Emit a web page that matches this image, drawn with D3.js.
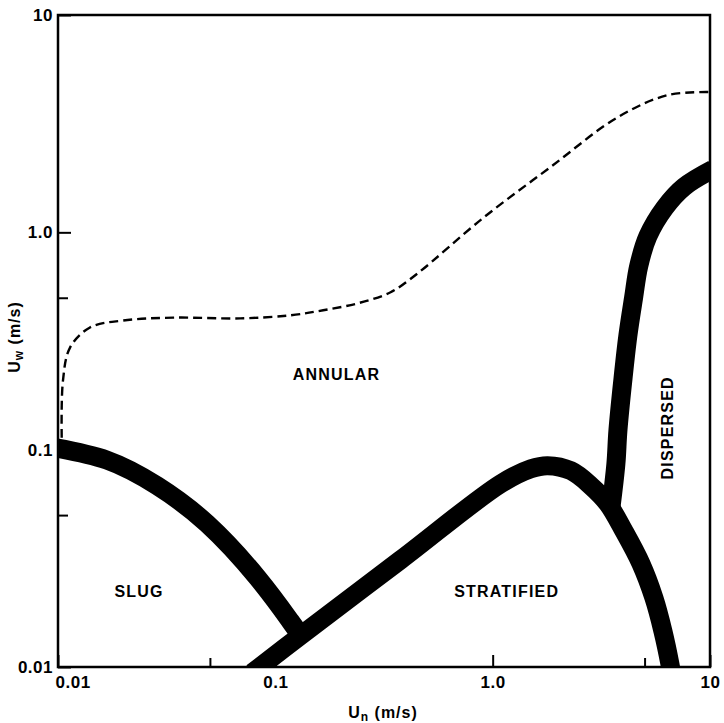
<!DOCTYPE html>
<html>
<head>
<meta charset="utf-8">
<script src="https://cdn.jsdelivr.net/npm/d3@7"></script>
<style>
body { margin: 0; background: #fff; }
text { font-family: "Liberation Sans", Arial, Helvetica, sans-serif; font-weight: bold; fill: #000; }
</style>
</head>
<body>
<svg id="chart" width="724" height="723"></svg>
<script>
// axis ticks
var xTicks = [0.01, 0.1, 1, 10]
var xTickLabels = ["0.01", "0.1", "1.0", "10"]
var xMinorTicks = [0.05, 5]
var yTicks = [0.01, 0.1, 1, 10]
var yTickLabels = ["0.01", "0.1", "1.0", "10"]
var yMinorTicks = [0.05, 0.5]

// flow regime boundaries, [Un, Uw] in m/s
var slugBoundary = [[0.0095, 0.1025], [0.0168, 0.0895], [0.0286, 0.0682], [0.0486, 0.0456],
  [0.0826, 0.0258], [0.117, 0.0163], [0.13, 0.0141]]
var stratifiedBoundary = [[0.0783, 0.0094], [0.130, 0.0139], [0.377, 0.0311], [1.09, 0.0697],
  [1.50, 0.0817], [1.79, 0.0844], [2.29, 0.080], [2.83, 0.0682], [3.39, 0.0564],
  [4.01, 0.0424], [4.81, 0.0299], [5.52, 0.0208], [6.07, 0.01466], [6.54, 0.01033], [6.68, 0.0091]]
var dispersedBoundary = [[3.50, 0.054], [3.69, 0.0861], [3.77, 0.1225], [3.97, 0.208], [4.19, 0.335],
  [4.45, 0.50], [4.70, 0.70], [5.18, 0.96], [6.20, 1.30], [7.60, 1.62], [10.3, 1.95]]
var annularDashed = [[0.0104, 0.1135], [0.01054, 0.208], [0.01136, 0.295], [0.01403, 0.365],
  [0.01993, 0.393], [0.0339, 0.405], [0.069, 0.402], [0.117, 0.415], [0.166, 0.438],
  [0.239, 0.471], [0.339, 0.530], [0.451, 0.647], [0.909, 1.17], [1.85, 2.0],
  [3.77, 3.39], [6.40, 4.28], [10, 4.42]]

// regime names and where they sit
var regimeNames = ["ANNULAR", "SLUG", "STRATIFIED", "DISPERSED"]
var regimeU = [0.191, 0.0236, 1.16, 6.34]
var regimeW = [0.222, 0.0222, 0.0222, 0.126]

var margin = {top: 15, right: 14, bottom: 56, left: 58}
var width = 724 - margin.left - margin.right
var height = 723 - margin.top - margin.bottom

var svg = d3.select("#chart")
var g = svg.append("g").attr("transform", "translate(" + margin.left + "," + margin.top + ")")

var x = d3.scaleLog().domain([0.01, 10]).range([0, width])
var y = d3.scaleLog().domain([0.01, 10]).range([height, 0])

g.append("clipPath").attr("id", "plotclip")
  .append("rect").attr("width", width).attr("height", height)

var line = d3.line()
  .x(function(d){ return x(d[0]) })
  .y(function(d){ return y(d[1]) })
  .curve(d3.curveCatmullRom.alpha(0.5))
var smooth = d3.line()
  .x(function(d){ return x(d[0]) })
  .y(function(d){ return y(d[1]) })
  .curve(d3.curveNatural)

var plot = g.append("g").attr("clip-path", "url(#plotclip)")

plot.append("path").datum(annularDashed)
  .attr("d", line)
  .attr("fill", "none").attr("stroke", "#000")
  .attr("stroke-width", 2.4).attr("stroke-dasharray", "9,5")

// thick regime boundaries
plot.append("path").datum(slugBoundary).attr("d", smooth)
  .attr("fill", "none").attr("stroke", "#000").attr("stroke-width", 19)
var thick = [stratifiedBoundary, dispersedBoundary]
plot.selectAll(".thick").data(thick).enter().append("path")
  .attr("class", "thick")
  .attr("d", line)
  .attr("fill", "none").attr("stroke", "#000").attr("stroke-width", 19)

// frame
g.append("rect").attr("width", width).attr("height", height)
  .attr("fill", "none").attr("stroke", "#000").attr("stroke-width", 2.5)

// axes
var xAxis = g.append("g").attr("transform", "translate(0," + height + ")")
  .call(d3.axisBottom(x).tickValues(xTicks).tickSize(-12).tickPadding(9)
    .tickFormat(function(d, i){ return xTickLabels[i] }))
var yAxis = g.append("g")
  .call(d3.axisLeft(y).tickValues(yTicks).tickSize(-13).tickPadding(5)
    .tickFormat(function(d, i){ return yTickLabels[i] }))
g.append("g").attr("transform", "translate(0," + height + ")")
  .call(d3.axisBottom(x).tickValues(xMinorTicks).tickSize(-9).tickFormat(""))
g.append("g")
  .call(d3.axisLeft(y).tickValues(yMinorTicks).tickSize(-10).tickFormat(""))

g.selectAll(".domain").remove()
g.selectAll(".tick line").attr("stroke", "#000").attr("stroke-width", 2)
g.selectAll(".tick text").attr("font-size", 17).attr("font-family", null)
  .style("letter-spacing", "0.5px")
xAxis.selectAll(".tick text").filter(function(d){ return d === 0.01 })
  .attr("text-anchor", "start").attr("dx", "-3")

// regime labels
g.selectAll(".regime").data(regimeNames).enter().append("text")
  .attr("class", "regime")
  .attr("transform", function(d, i){
    var t = "translate(" + x(regimeU[i]) + "," + y(regimeW[i]) + ")"
    return d === "DISPERSED" ? t + " rotate(-90)" : t
  })
  .attr("text-anchor", "middle").attr("dy", "0.36em")
  .attr("font-size", 16).style("letter-spacing", "1.2px")
  .text(function(d){ return d })

// axis titles
var xt = svg.append("text").attr("x", 383).attr("y", 718)
  .attr("text-anchor", "middle").attr("font-size", 16).style("letter-spacing", "1px")
xt.append("tspan").text("U")
xt.append("tspan").attr("font-size", 12).attr("dy", 3).text("n")
xt.append("tspan").attr("dy", -3).text(" (m/s)")

var yt = svg.append("text").attr("transform", "translate(20,337) rotate(-90)")
  .attr("text-anchor", "middle").attr("font-size", 16).style("letter-spacing", "1px")
yt.append("tspan").text("U")
yt.append("tspan").attr("font-size", 12).attr("dy", 3).text("w")
yt.append("tspan").attr("dy", -3).text(" (m/s)")
</script>
</body>
</html>
